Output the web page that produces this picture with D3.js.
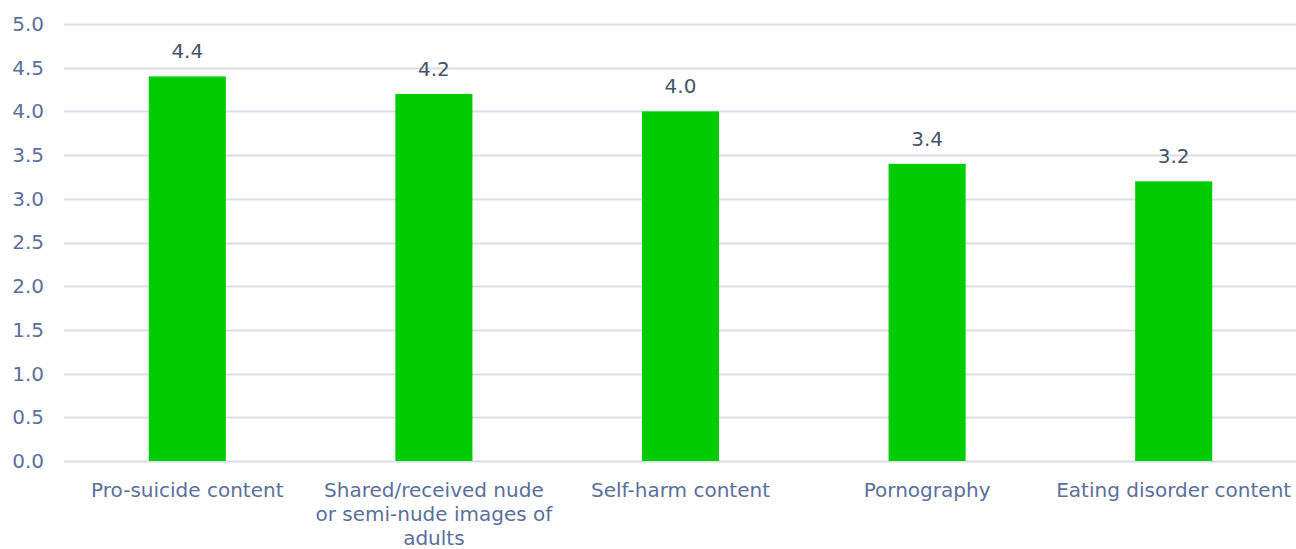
<!DOCTYPE html>
<html><head><meta charset="utf-8">
<script src="https://cdn.jsdelivr.net/npm/d3@7"></script>
<style>body{margin:0;background:#fff;} svg{display:block;}</style>
</head><body>
<svg id="c" width="1296" height="549"></svg>
<script>
const categories = ["Pro-suicide content", "Shared/received nude or semi-nude images of adults", "Self-harm content", "Pornography", "Eating disorder content"];
const values = [4.4, 4.2, 4.0, 3.4, 3.2];
const yTicks = [0, 0.5, 1.0, 1.5, 2.0, 2.5, 3.0, 3.5, 4.0, 4.5, 5.0];

(function () {
const svg = d3.select("#c");
const FONT = "'DejaVu Sans', sans-serif";
const FS = 20;
const mLeft = 64, mRight = 1297, mTop = 24, mBottom = 461;
const x = d3.scaleBand().domain(categories).range([mLeft, mRight]).paddingInner(0.6875).paddingOuter(0.34375);
const y = d3.scaleLinear().domain([0, 5]).range([mBottom, mTop]);

// gridlines
svg.append("g").selectAll("line").data(yTicks).join("line")
  .attr("x1", mLeft).attr("x2", 1296)
  .attr("y1", d => Math.round(y(d)) + 0.5).attr("y2", d => Math.round(y(d)) + 0.5)
  .attr("stroke", "#d9dde8").attr("stroke-width", 2);

// y axis labels
const yAxis = d3.axisLeft(y).tickValues(yTicks).tickFormat(d3.format(".1f")).tickSize(0).tickPadding(0);
const ga = svg.append("g").attr("transform", `translate(44,0)`).call(yAxis);
ga.select(".domain").remove();
ga.selectAll("text").attr("fill", "#5b6f9b").attr("font-family", FONT).attr("font-size", FS);

// bars
svg.append("g").selectAll("rect").data(values).join("rect")
  .attr("x", (d, i) => x(categories[i]))
  .attr("width", x.bandwidth())
  .attr("y", d => y(d))
  .attr("height", d => y(0) - y(d))
  .attr("fill", "#00cc00");

// data labels
svg.append("g").selectAll("text").data(values).join("text")
  .attr("x", (d, i) => x(categories[i]) + x.bandwidth() / 2)
  .attr("y", d => y(d) - 18)
  .attr("text-anchor", "middle")
  .attr("fill", "#44546a").attr("font-family", FONT).attr("font-size", FS)
  .text(d => d3.format(".1f")(d));

// x axis labels with wrapping
const xl = svg.append("g");
categories.forEach(c => {
  const cx = x(c) + x.bandwidth() / 2;
  const t = xl.append("text").attr("x", cx).attr("y", 497).attr("text-anchor", "middle")
    .attr("fill", "#5b6f9b").attr("font-family", FONT).attr("font-size", FS);
  const words = c.split(" ");
  let lines = [], line = [];
  const maxW = 240;
  const tmp = t.append("tspan");
  words.forEach(w => {
    const test = line.concat(w).join(" ");
    tmp.text(test);
    if (tmp.node().getComputedTextLength() > maxW && line.length) {
      lines.push(line.join(" ")); line = [w];
    } else line.push(w);
  });
  lines.push(line.join(" "));
  tmp.remove();
  lines.forEach((l, i) => {
    t.append("tspan").attr("x", cx).attr("y", 497 + i * 24).text(l);
  });
});
})();
</script>
</body></html>
